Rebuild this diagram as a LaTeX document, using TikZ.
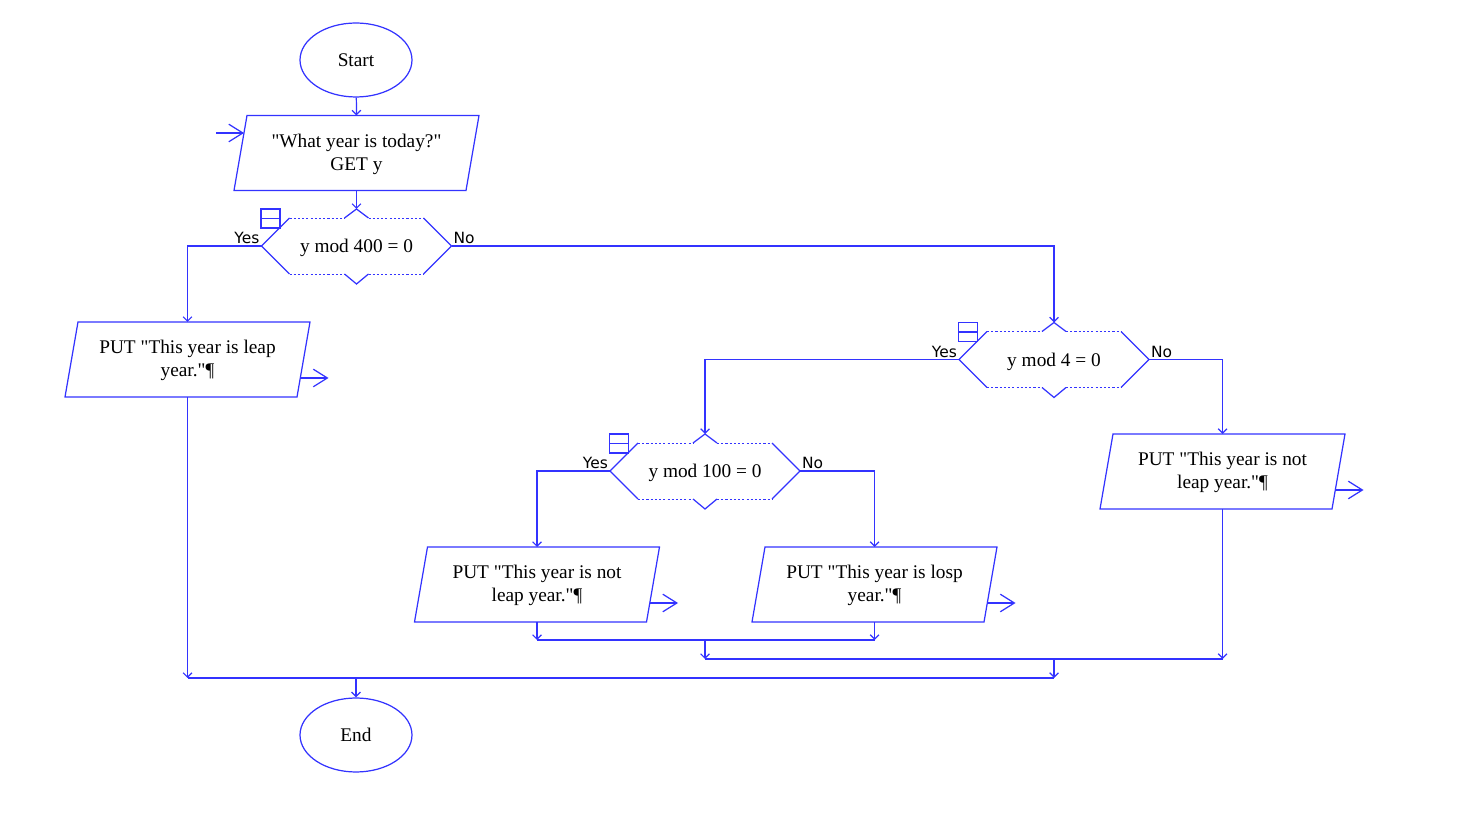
\documentclass[tikz,border=0pt]{standalone}
\usepackage{fontspec}
\setmainfont{Liberation Serif}[Ligatures=TeXOff]
\newfontfamily\yesnofont{DejaVu Sans}
\usetikzlibrary{arrows.meta,shapes.geometric}
\definecolor{flowblue}{RGB}{51,51,255}

\tikzset{
	flow/.style={draw=flowblue, line width=0.7pt},
	dots/.style={draw=flowblue, line width=0.55pt, dash pattern=on 1.2pt off 1.2pt},
	link/.style={flow, -{Straight Barb[length=2.5pt,width=5pt]}},
	ioarrow/.style={flow, -{Straight Barb[length=8pt,width=10pt]}},
	terminal/.style={flow, ellipse, minimum width=2.24cm, minimum height=1.48cm, inner sep=0pt, font=\fontsize{11}{13}\selectfont},
	boxtext/.style={align=center, inner sep=0pt, font=\fontsize{11}{13}\selectfont},
	branch/.style={font=\yesnofont\fontsize{8.8}{10}\selectfont, inner sep=1pt},
	% hexagon with the notches of the decision symbol
	pics/decision/.style={code={
		\node[boxtext] (-c) at (0,2) {#1};
		\coordinate (-n) at (0,-37);
		\coordinate (-w) at (-95,0);
		\coordinate (-e) at (95,0);
		\draw[flow] (-67,-28) -- (-95,0) -- (-67,28);
		\draw[flow] (67,-28) -- (95,0) -- (67,28);
		\draw[flow] (-12,-28) -- (0,-37) -- (12,-28);
		\draw[flow] (-12,28) -- (0,38) -- (12,28);
		\draw[dots] (-67,-28) -- (-12,-28) (12,-28) -- (67,-28);
		\draw[dots] (-67,28) -- (-12,28) (12,28) -- (67,28);
		\draw[flow] (-95.5,-37) rectangle (-76.5,-18);
		\draw[flow] (-95.5,-27.5) -- (-76.5,-27.5);
	}},
	% parallelogram of the input / output symbol
	pics/iobox/.style={code={
		\node[boxtext] (-c) at (0,1) {#1};
		\coordinate (-n) at (0,-37.5);
		\coordinate (-s) at (0,37.5);
		\coordinate (-src) at (-140.5,-20);
		\coordinate (-in) at (-112.5,-20);
		\coordinate (-out) at (112.8,18.5);
		\coordinate (-tip) at (141,18.5);
		\draw[flow] (-109.5,-37.5) -- (122.5,-37.5) -- (109.5,37.5) -- (-122.5,37.5) -- cycle;
	}},
}

\begin{document}
\begin{tikzpicture}[x=0.02cm, y=-0.02cm]
	\useasboundingbox (0,0) rectangle (1471,813);
	
	\node[terminal] (start) at (356,60) {Start};
	\node[terminal] (end) at (356,735) {End};
	
	\pic (ask) at (356.5,153) {iobox={"What year is today?"\\GET y}};
	\pic (leap) at (187.5,359.5) {iobox={PUT "This year is leap\\year."¶}};
	\pic (notleapL) at (537,584.5) {iobox={PUT "This year is not\\leap year."¶}};
	\pic (losp) at (874.5,584.5) {iobox={PUT "This year is losp\\year."¶}};
	\pic (notleapR) at (1222.5,471.5) {iobox={PUT "This year is not\\leap year."¶}};
	
	\pic (q1) at (356.5,246) {decision={y mod 400 = 0}};
	\pic (q2) at (1054,359.5) {decision={y mod 4 = 0}};
	\pic (q3) at (705,471) {decision={y mod 100 = 0}};
	
	% in and out arrows of the io symbols
	\draw[ioarrow] (ask-src) -- (ask-in);
	\foreach \b in {leap,notleapL,losp,notleapR}
		\draw[ioarrow] (\b-out) -- (\b-tip);
	
	% branch labels
	\node[branch, anchor=south east] (q1yes) at (q1-w) {Yes};
	\node[branch, anchor=south west] (q1no) at (q1-e) {No};
	\node[branch, anchor=south east] (q2yes) at (q2-w) {Yes};
	\node[branch, anchor=south west] (q2no) at (q2-e) {No};
	\node[branch, anchor=south east] (q3yes) at (q3-w) {Yes};
	\node[branch, anchor=south west] (q3no) at (q3-e) {No};
	
	\draw[link] (start) -- (ask-n);
	\draw[link] (ask-s) -- (q1-n);
	\draw[link] (q1-w) -| (leap-n);
	\draw[link] (q1-e) -| (q2-n);
	\draw[link] (q2-w) -| (q3-n);
	\draw[link] (q2-e) -| (notleapR-n);
	\draw[link] (q3-w) -| (notleapL-n);
	\draw[link] (q3-e) -| (losp-n);
	
	% joins
	\coordinate (j1) at (705,640);
	\coordinate (j2) at (1054,659);
	\coordinate (j3) at (356,678);
	\draw[link] (notleapL-s) -- (notleapL-s |- j1);
	\draw[link] (losp-s) -- (losp-s |- j1);
	\draw[flow] (notleapL-s |- j1) -- (losp-s |- j1);
	\draw[link] (j1) -- (j1 |- j2);
	\draw[link] (notleapR-s) -- (notleapR-s |- j2);
	\draw[flow] (j1 |- j2) -- (notleapR-s |- j2);
	\draw[link] (j2) -- (j2 |- j3);
	\draw[link] (leap-s) -- (leap-s |- j3);
	\draw[flow] (leap-s |- j3) -- (j2 |- j3);
	\draw[link] (j3) -- (end);
	
\end{tikzpicture}
\end{document}
